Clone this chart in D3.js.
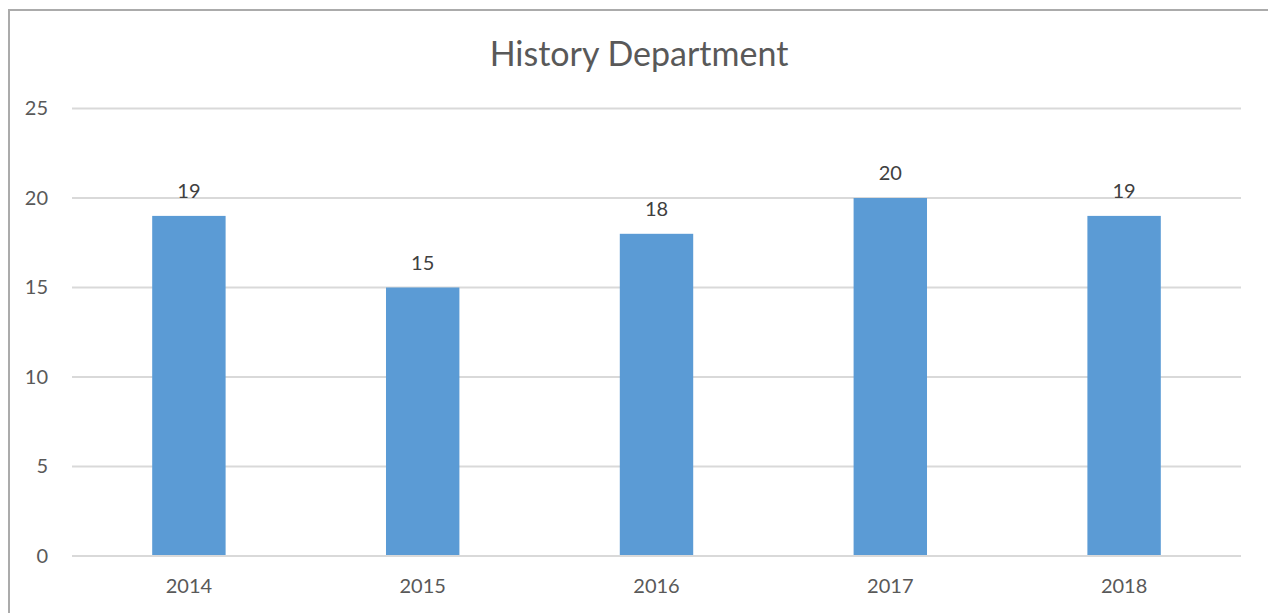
<!DOCTYPE html>
<html>
<head>
<meta charset="utf-8">
<script src="https://cdn.jsdelivr.net/npm/d3@7"></script>
<style>
  body { margin: 0; background: #fff; }
  svg text { font-family: Lato, "Open Sans", sans-serif; }
</style>
</head>
<body>
<div id="plot"></div>
<script>
// data
var years = ["2014", "2015", "2016", "2017", "2018"];
var counts = [19, 15, 18, 20, 19];
var yTicks = [0, 5, 10, 15, 20, 25];
var chartTitle = "History Department";

var svgWidth = 1268;
var svgHeight = 613;

var margin = { top: 108.5, right: 27, bottom: 57, left: 72 };
var width = svgWidth - margin.left - margin.right;
var height = svgHeight - margin.top - margin.bottom;

var svg = d3.select("#plot")
    .append("svg")
    .attr("width", svgWidth)
    .attr("height", svgHeight);

// outer chart border
svg.append("rect")
    .attr("x", 9)
    .attr("y", 10)
    .attr("width", 1300)
    .attr("height", 700)
    .attr("fill", "none")
    .attr("stroke", "#ababab")
    .attr("stroke-width", 2);

var chartGroup = svg.append("g")
    .attr("transform", `translate(${margin.left}, ${margin.top})`);

// scales
var xScale = d3.scaleBand()
    .domain(years)
    .range([0, width])
    .paddingInner(0.686)
    .paddingOuter(0.343);

var yScale = d3.scaleLinear()
    .domain([0, 25])
    .range([height, 0]);

// gridlines
chartGroup.selectAll(".grid")
    .data(yTicks)
    .enter()
    .append("line")
    .attr("x1", 0)
    .attr("x2", width)
    .attr("y1", d => yScale(d))
    .attr("y2", d => yScale(d))
    .attr("stroke", "#d9d9d9")
    .attr("stroke-width", 2);

// y axis labels
var yAxis = d3.axisLeft(yScale).tickValues(yTicks).tickSize(0).tickPadding(24);
chartGroup.append("g")
    .call(yAxis)
    .call(g => g.select(".domain").remove())
    .selectAll("text")
    .attr("fill", "#595959")
    .style("font-size", "20px");

// x axis labels
var xAxis = d3.axisBottom(xScale).tickSize(0).tickPadding(23);
chartGroup.append("g")
    .attr("transform", `translate(0, ${height})`)
    .call(xAxis)
    .call(g => g.select(".domain").remove())
    .selectAll("text")
    .attr("fill", "#595959")
    .style("font-size", "20px");

// bars
chartGroup.selectAll(".bar")
    .data(counts)
    .enter()
    .append("rect")
    .attr("x", (d, i) => xScale(years[i]))
    .attr("y", d => yScale(d))
    .attr("width", xScale.bandwidth())
    .attr("height", d => height - yScale(d) - 1)
    .attr("fill", "#5b9bd5");

// data labels
chartGroup.selectAll(".label")
    .data(counts)
    .enter()
    .append("text")
    .attr("x", (d, i) => xScale(years[i]) + xScale.bandwidth() / 2)
    .attr("y", d => yScale(d) - 18)
    .attr("text-anchor", "middle")
    .attr("fill", "#404040")
    .style("font-size", "20px")
    .text(d => d);

// title
svg.append("text")
    .attr("x", 639)
    .attr("y", 66)
    .attr("text-anchor", "middle")
    .attr("fill", "#595959")
    .style("font-size", "34px")
    .text(chartTitle);
</script>
</body>
</html>
